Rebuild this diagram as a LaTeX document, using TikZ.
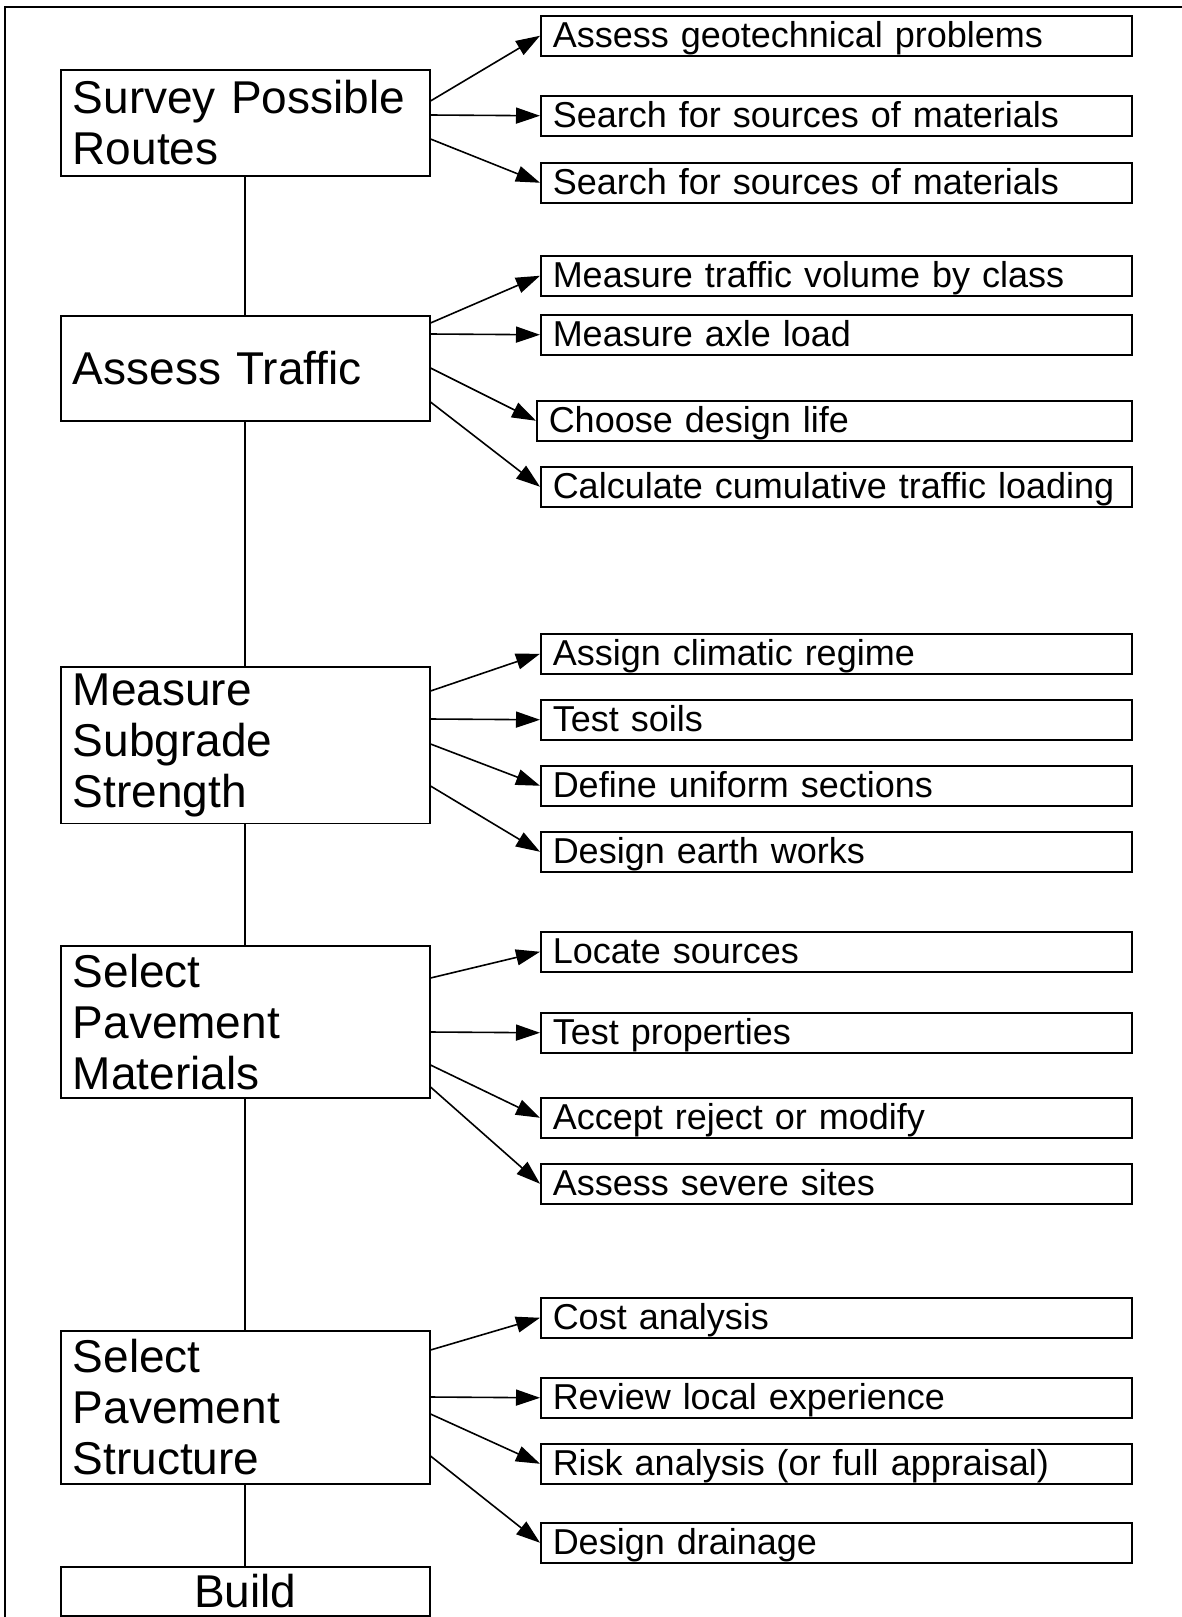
\documentclass[tikz,border=0pt]{standalone}
\usepackage{fontspec}
\setmainfont{Liberation Sans}
\usetikzlibrary{arrows.meta}

\begin{document}
\begin{tikzpicture}[x=0.5pt,y=-0.5pt,
  stage/.style={draw, line width=.75pt, anchor=north west, text width=172.5pt,
    inner xsep=6pt, align=left, font=\fontsize{23}{25.5}\selectfont},
  task/.style={draw, line width=.75pt, anchor=north west, inner xsep=6pt,
    inner ysep=0pt, text height=16pt, text depth=4pt, align=left,
    font=\fontsize{18}{20}\selectfont},
  link/.style={line width=.8pt},
  >={Triangle[length=12pt,width=8pt]}]
\useasboundingbox (0,0) rectangle (1182,1617);
\clip (0,0) rectangle (1182,1617);
\draw[line width=1.1pt] (5,1650) -- (5,7) -- (1220,7);

\node[stage, minimum height=53pt]   (survey)    at (60,69)   {Survey Possible\\Routes};
\node[stage, minimum height=52.5pt] (traffic)   at (60,315)  {Assess Traffic};
\node[stage, minimum height=76.5pt] (subgrade)  at (60,666)  {Measure\\Subgrade\\Strength};
\node[stage, minimum height=76pt]   (materials) at (60,945)  {Select\\Pavement\\Materials};
\node[stage, minimum height=76.5pt] (structure) at (60,1330) {Select\\Pavement\\Structure};
\node[stage, minimum height=24.5pt, align=center] (build) at (60,1566) {Build};

\foreach \a/\b in {survey/traffic, traffic/subgrade, subgrade/materials, materials/structure, structure/build}
  \draw[link] (\a) -- (\b);

\foreach \x/\y/\w/\name/\txt in {
  540/15/283.5pt/a1/Assess geotechnical problems,
  540/95/283.5pt/a2/Search for sources of materials,
  540/162/283.5pt/a3/Search for sources of materials,
  540/255/283.5pt/b1/Measure traffic volume by class,
  540/314/283.5pt/b2/Measure axle load,
  536/400/285.5pt/b3/Choose design life,
  540/466/283.5pt/b4/Calculate cumulative traffic loading,
  540/633/283.5pt/c1/Assign climatic regime,
  540/699/283.5pt/c2/Test soils,
  540/765/283.5pt/c3/Define uniform sections,
  540/831/283.5pt/c4/Design earth works,
  540/931/283.5pt/d1/Locate sources,
  540/1012/283.5pt/d2/Test properties,
  540/1097/283.5pt/d3/Accept reject or modify,
  540/1163/283.5pt/d4/Assess severe sites,
  540/1297/283.5pt/e1/Cost analysis,
  540/1377/283.5pt/e2/Review local experience,
  540/1443/283.5pt/e3/Risk analysis (or full appraisal),
  540/1522/283.5pt/e4/Design drainage}
  \node[task, text width=\w] (\name) at (\x,\y) {\txt};

\foreach \src/\off/\dst in {
  survey/16pt/a1, survey/23pt/a2, survey/35pt/a3,
  traffic/4pt/b1, traffic/9.5pt/b2, traffic/26.5pt/b3, traffic/43.5pt/b4,
  subgrade/12.5pt/c1, subgrade/26.5pt/c2, subgrade/39pt/c3, subgrade/60pt/c4,
  materials/16.5pt/d1, materials/43.5pt/d2, materials/60pt/d3, materials/71pt/d4,
  structure/10pt/e1, structure/33.5pt/e2, structure/42pt/e3, structure/63pt/e4}
  \draw[link, ->] ([yshift=-\off]\src.north east) -- (\dst.west);
\end{tikzpicture}
\end{document}
